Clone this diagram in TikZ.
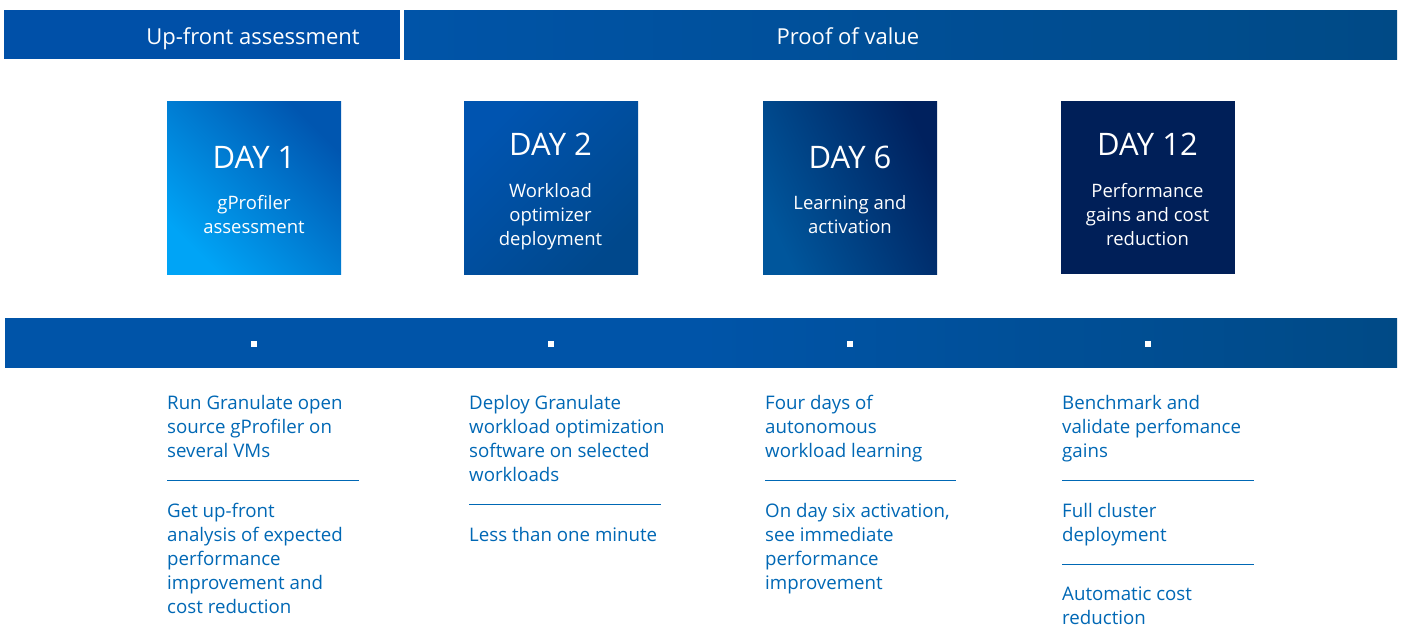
\documentclass[tikz,border=0pt]{standalone}
\usepackage{fontspec}
\setmainfont{Open Sans}
\definecolor{barblue}{RGB}{0,80,168}
\definecolor{barblueL}{RGB}{0,84,168}
\definecolor{barblueR}{RGB}{0,74,134}
\definecolor{txtblue}{RGB}{0,104,181}
\definecolor{bOneL}{RGB}{0,164,246}
\definecolor{bOneD}{RGB}{0,86,176}
\definecolor{bTwoL}{RGB}{0,84,176}
\definecolor{bTwoD}{RGB}{0,72,140}
\definecolor{bThrL}{RGB}{0,86,156}
\definecolor{bThrD}{RGB}{0,33,94}
\definecolor{bFour}{RGB}{0,31,88}
\tikzset{
  barbox/.style={inner sep=0, anchor=north west, draw=none},
  daybox/.style={inner sep=0, anchor=north west, minimum width=174, minimum height=173, draw=none},
  hdrtxt/.style={text=white, anchor=base, inner sep=0, font=\fontsize{22}{24}\selectfont},
  daytxt/.style={text=white, anchor=base, inner sep=0, font=\fontsize{31}{34}\selectfont},
  subtxt/.style={text=white, anchor=base, inner sep=0, align=center, font=\fontsize{18.5}{24}\selectfont},
  bodytxt/.style={text=txtblue, anchor=base west, inner sep=0, align=left, font=\fontsize{18.7}{24}\selectfont},
  dot/.style={fill=white, inner sep=0, minimum size=6, draw=none},
  divider/.style={draw=txtblue, line width=1.6pt}
}
\begin{document}
\begin{tikzpicture}[x=1pt,y=-1pt]
\useasboundingbox[fill=white] (0,0) rectangle (1406,626);
% header bars
\node[barbox, fill=barblue, minimum width=396, minimum height=49] (hdrL) at (4,10) {};
\node[barbox, left color=barblueL, right color=barblueR, minimum width=993, minimum height=49] (hdrR) at (404,10) {};
\node[hdrtxt] (hdrLt) at (253,45) {Up-front assessment};
\node[hdrtxt] (hdrRt) at (848,45) {Proof of value};
% day boxes
\node[daybox, shading=axis, top color=bOneD, bottom color=bOneL, shading angle=-45] (box1) at (167,101) {};
\node[daybox, shading=axis, top color=bTwoL, bottom color=bTwoD, shading angle=45] (box2) at (464,101) {};
\node[daybox, shading=axis, top color=bThrD, bottom color=bThrL, shading angle=-65] (box3) at (763,101) {};
\node[daybox, fill=bFour] (box4) at (1061,101) {};
\node[daytxt] (d1) at (254,168) {DAY 1};
\node[daytxt] (d2) at (550.5,155) {DAY 2};
\node[daytxt] (d3) at (850,168) {DAY 6};
\node[daytxt] (d4) at (1147.5,155) {DAY 12};
\node[subtxt] (s1) at (254,233.5) {gProfiler\\assessment};
\node[subtxt] (s2) at (550.5,245.5) {Workload\\optimizer\\deployment};
\node[subtxt] (s3) at (850,233.5) {Learning and\\activation};
\node[subtxt] (s4) at (1147.5,245.5) {Performance\\gains and cost\\reduction};
% timeline bar
\node[barbox, left color=barblueL, right color=barblueR, middle color=barblueL, minimum width=1392, minimum height=49] (tl) at (5,318) {};
\node[dot] (sq1) at (254,343.5) {};
\node[dot] (sq2) at (550.5,343.5) {};
\node[dot] (sq3) at (850,343.5) {};
\node[dot] (sq4) at (1147.5,343.5) {};
% column texts (anchor at last line's baseline)
\node[bodytxt] (c1a) at (167,457.3) {Run Granulate open\\source gProfiler on\\several VMs};
\node[bodytxt] (c1b) at (167,613.3) {Get up-front\\analysis of expected\\performance\\improvement and\\cost reduction};
\node[bodytxt] (c2a) at (469,481.3) {Deploy Granulate\\workload optimization\\software on selected\\workloads};
\node[bodytxt] (c2b) at (469,541.3) {Less than one minute};
\node[bodytxt] (c3a) at (765,457.3) {Four days of\\autonomous\\workload learning};
\node[bodytxt] (c3b) at (765,589.3) {On day six activation,\\see immediate\\performance\\improvement};
\node[bodytxt] (c4a) at (1062,457.3) {Benchmark and\\validate perfomance\\gains};
\node[bodytxt] (c4b) at (1062,541.3) {Full cluster\\deployment};
\node[bodytxt] (c4c) at (1062,624.5) {Automatic cost\\reduction};
% dividers
\coordinate (l1a) at (167,480.3); \coordinate (l1b) at (359,480.3);
\coordinate (l2a) at (469,504.3); \coordinate (l2b) at (661,504.3);
\coordinate (l3a) at (765,480.3); \coordinate (l3b) at (956,480.3);
\coordinate (l4a) at (1062,480.3); \coordinate (l4b) at (1254,480.3);
\coordinate (l5a) at (1062,564.3); \coordinate (l5b) at (1254,564.3);
\draw[divider] (l1a) -- (l1b);
\draw[divider] (l2a) -- (l2b);
\draw[divider] (l3a) -- (l3b);
\draw[divider] (l4a) -- (l4b);
\draw[divider] (l5a) -- (l5b);
\end{tikzpicture}
\end{document}
